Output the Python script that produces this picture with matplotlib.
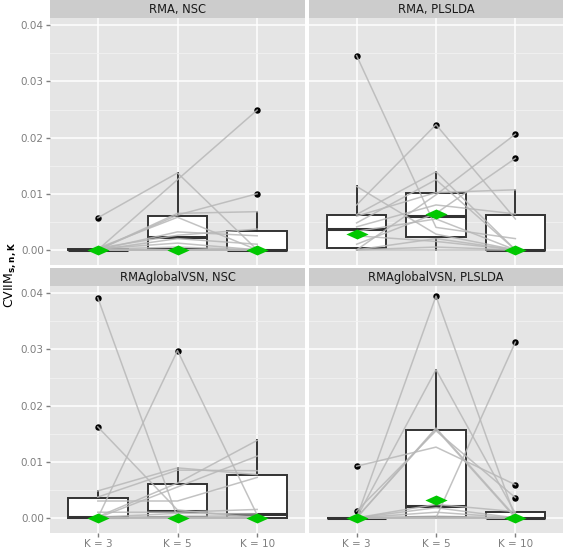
import numpy as np
import matplotlib
matplotlib.use('Agg')
import matplotlib.pyplot as plt
from matplotlib.path import Path

# K values on the x axis
k_labels = ['K = 3', 'K = 5', 'K = 10']

# panel titles
panel_titles = ['RMA, NSC', 'RMA, PLSLDA', 'RMAglobalVSN, NSC', 'RMAglobalVSN, PLSLDA']

# CVIIM per dataset (rows) for K = 3, 5, 10 (columns)
rma_nsc = [
    [0.0057, 0.0137, 0.0000],
    [0.0000, 0.0125, 0.0249],
    [0.0000, 0.0062, 0.0100],
    [0.0000, 0.0065, 0.0068],
    [0.0003, 0.0058, 0.0000],
    [0.0000, 0.0032, 0.0025],
    [0.0003, 0.0026, 0.0037],
    [0.0000, 0.0020, 0.0010],
    [0.0002, 0.0012, 0.0000],
    [0.0001, 0.0005, 0.0000],
    [0.0000, 0.0000, 0.0000],
    [0.0000, 0.0000, 0.0000],
    [0.0000, 0.0000, 0.0000],
    [0.0000, 0.0000, 0.0000],
]
rma_plslda = [
    [0.0346, 0.0040, 0.0020],
    [0.0080, 0.0223, 0.0055],
    [0.0000, 0.0098, 0.0206],
    [0.0010, 0.0065, 0.0163],
    [0.0113, 0.0028, 0.0000],
    [0.0063, 0.0139, 0.0000],
    [0.0060, 0.0102, 0.0107],
    [0.0048, 0.0125, 0.0000],
    [0.0041, 0.0080, 0.0064],
    [0.0033, 0.0055, 0.0000],
    [0.0025, 0.0015, 0.0000],
    [0.0000, 0.0000, 0.0000],
    [0.0000, 0.0005, 0.0000],
    [0.0000, 0.0020, 0.0000],
]
vsn_nsc = [
    [0.0392, 0.0000, 0.0000],
    [0.0162, 0.0014, 0.0000],
    [0.0000, 0.0298, 0.0005],
    [0.0002, 0.0062, 0.0138],
    [0.0000, 0.0055, 0.0110],
    [0.0048, 0.0089, 0.0077],
    [0.0037, 0.0085, 0.0084],
    [0.0030, 0.0030, 0.0072],
    [0.0010, 0.0010, 0.0015],
    [0.0001, 0.0008, 0.0007],
    [0.0000, 0.0003, 0.0003],
    [0.0000, 0.0000, 0.0000],
    [0.0000, 0.0000, 0.0000],
    [0.0000, 0.0000, 0.0000],
]
vsn_plslda = [
    [0.0000, 0.0395, 0.0000],
    [0.0000, 0.0264, 0.0008],
    [0.0092, 0.0126, 0.0059],
    [0.0000, 0.0000, 0.0313],
    [0.0012, 0.0155, 0.0036],
    [0.0000, 0.0158, 0.0000],
    [0.0000, 0.0160, 0.0002],
    [0.0000, 0.0024, 0.0011],
    [0.0000, 0.0018, 0.0000],
    [0.0000, 0.0010, 0.0000],
    [0.0000, 0.0003, 0.0000],
    [0.0000, 0.0000, 0.0000],
    [0.0000, 0.0000, 0.0000],
    [0.0000, 0.0000, 0.0000],
]

# green diamonds (global values) per panel
diamonds = [
    [0.0, 0.0, 0.0],
    [0.0029, 0.0063, 0.0],
    [0.0, 0.0, 0.0],
    [0.0, 0.0031, 0.0],
]

panel_data = [rma_nsc, rma_plslda, vsn_nsc, vsn_plslda]

# flat diamond marker
diamond = Path([(-1, 0), (0, 0.45), (1, 0), (0, -0.45), (-1, 0)],
               [Path.MOVETO, Path.LINETO, Path.LINETO, Path.LINETO, Path.CLOSEPOLY])

W, H = 565, 551
fig = plt.figure(figsize=(W / 100, H / 100), dpi=100)

# pixel boxes (x0, x1) and (y0, y1) of the panels
cols = [(50, 305), (309, 563)]
rows = [(18, 265), (286, 533)]
strip_h = 18

grey_bg = '#E5E5E5'
x = np.arange(1, 4)

for i, data in enumerate(panel_data):
    r, c = divmod(i, 2)
    x0, x1 = cols[c]
    y0, y1 = rows[r]
    ax = fig.add_axes([x0 / W, 1 - y1 / H, (x1 - x0) / W, (y1 - y0) / H])
    sax = fig.add_axes([x0 / W, 1 - y0 / H, (x1 - x0) / W, strip_h / H])
    sax.set_facecolor('#CCCCCC')
    sax.set_xticks([])
    sax.set_yticks([])
    for s in sax.spines.values():
        s.set_visible(False)
    sax.text(0.5, 0.45, panel_titles[i], ha='center', va='center', fontsize=8.3,
             color='#1A1A1A', transform=sax.transAxes)

    vals = np.array(data)
    ax.set_facecolor(grey_bg)
    ax.boxplot([vals[:, j] for j in range(3)], positions=x, widths=0.75,
               whis=1.5, patch_artist=True, showcaps=False,
               boxprops=dict(facecolor='white', edgecolor='#333333', linewidth=1.4),
               whiskerprops=dict(color='#333333', linewidth=1.4),
               medianprops=dict(color='#333333', linewidth=2.2),
               flierprops=dict(marker='o', markerfacecolor='black', markeredgecolor='black',
                               markersize=3.6),
               zorder=2)
    # one grey line per dataset
    for row in vals:
        ax.plot(x, row, color='#B8B8B8', linewidth=1.1, alpha=0.85, zorder=3)
    ax.plot(x, diamonds[i], linestyle='none', marker=diamond, markersize=16,
            color='#00C800', markeredgewidth=0, zorder=4)

    ax.set_xlim(0.4, 3.6)
    ax.set_ylim(-0.0027, 0.0413)
    ax.set_xticks(x)
    ax.set_yticks([0, 0.01, 0.02, 0.03, 0.04])
    ax.set_yticks([0.005, 0.015, 0.025, 0.035], minor=True)
    ax.grid(which='major', color='white', linewidth=1.1)
    ax.grid(which='minor', axis='y', color='#F2F2F2', linewidth=0.6)
    ax.set_axisbelow(True)
    for s in ax.spines.values():
        s.set_visible(False)
    ax.tick_params(which='minor', length=0)
    ax.tick_params(which='major', color='#7F7F7F', length=3, width=1.0,
                   labelcolor='#7F7F7F', labelsize=7.5, pad=1.5)
    if c == 0:
        ax.set_yticklabels(['0.00', '0.01', '0.02', '0.03', '0.04'])
    else:
        ax.tick_params(axis='y', left=False, labelleft=False)
    if r == 1:
        ax.set_xticklabels(k_labels)
    else:
        ax.tick_params(axis='x', bottom=False, labelbottom=False)

fig.text(0.018, 0.5, r'CVIIM$_{\mathbf{s,n,K}}$', rotation=90, ha='center', va='center',
         fontsize=9)

fig.savefig('out.png', dpi=100)
